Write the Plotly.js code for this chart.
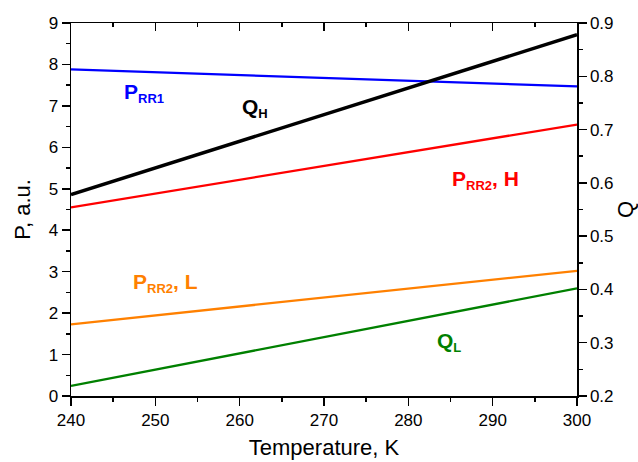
<!DOCTYPE html>
<html>
<head>
<meta charset="utf-8">
<script src="https://cdn.plot.ly/plotly-3.0.1.min.js"></script>
<style>html,body{margin:0;padding:0;background:#fff;}#chart{width:638px;height:462px;}</style>
</head>
<body>
<div id="chart"></div>
<script>
// Temperature, K
const temperature = [240, 270, 300];
// Left axis (P, a.u.)
const pRR1 = [7.88, 7.68, 7.47];
const pRR2H = [4.55, 5.55, 6.55];
const pRR2L = [1.73, 2.37, 3.02];
// Right axis (Q)
const qH = [0.578, 0.728, 0.878];
const qL = [0.219, 0.310, 0.402];

const xTicks = [240, 250, 260, 270, 280, 290, 300];
const pTicks = [0, 1, 2, 3, 4, 5, 6, 7, 8, 9];
const qTicks = [0.2, 0.3, 0.4, 0.5, 0.6, 0.7, 0.8, 0.9];

const FONT = 'Arial, "Liberation Sans", sans-serif';

const traces = [
  {x: temperature, y: pRR1, mode: 'lines', line: {color: '#0000ff', width: 2.3}, xaxis: 'x', yaxis: 'y'},
  {x: temperature, y: pRR2H, mode: 'lines', line: {color: '#ff0000', width: 2.3}, xaxis: 'x', yaxis: 'y'},
  {x: temperature, y: pRR2L, mode: 'lines', line: {color: '#ff8000', width: 2.3}, xaxis: 'x', yaxis: 'y'},
  {x: temperature, y: qL, mode: 'lines', line: {color: '#008000', width: 2.3}, xaxis: 'x', yaxis: 'y2'},
  {x: temperature, y: qH, mode: 'lines', line: {color: '#000000', width: 3.5}, xaxis: 'x', yaxis: 'y2'},
  {x: temperature, y: pRR1, mode: 'lines', line: {width: 0}, opacity: 0, xaxis: 'x2', yaxis: 'y', hoverinfo: 'skip'}
];

const axisCommon = {
  showline: true, linecolor: '#000', linewidth: 1.5, showgrid: false, zeroline: false,
  tickcolor: '#000', tickwidth: 1.5, ticklen: 8,
  tickfont: {family: FONT, size: 17, color: '#000'}
};

const sub = (s) => '<sub><span style="font-size:13px">' + s + '</span></sub>';

const ann = (text, x, y, color) => ({
  text: text, x: x, y: y, xref: 'x', yref: 'y', xanchor: 'left', yanchor: 'middle',
  showarrow: false, font: {family: FONT, size: 21, color: color}
});

const layout = {
  width: 638, height: 462,
  margin: {l: 71, r: 61, t: 23, b: 66},
  paper_bgcolor: '#fff', plot_bgcolor: '#fff',
  showlegend: false,
  font: {family: FONT, color: '#000'},
  xaxis: Object.assign({}, axisCommon, {
    range: [240, 300], tickvals: xTicks, ticks: 'outside',
    minor: {ticks: 'outside', dtick: 5, ticklen: 4, tickcolor: '#000', tickwidth: 1.5},
    title: {text: 'Temperature, K', font: {family: FONT, size: 22, color: '#000'}, standoff: 10}
  }),
  xaxis2: Object.assign({}, axisCommon, {
    range: [240, 300], overlaying: 'x', side: 'top', anchor: 'y', tickvals: xTicks, ticks: 'inside',
    showticklabels: false,
    minor: {ticks: 'inside', dtick: 5, ticklen: 4, tickcolor: '#000', tickwidth: 1.5}
  }),
  yaxis: Object.assign({}, axisCommon, {
    range: [0, 9], tickvals: pTicks, ticks: 'outside',
    minor: {ticks: 'outside', dtick: 0.5, ticklen: 4, tickcolor: '#000', tickwidth: 1.5},
    title: {text: 'P, a.u.', font: {family: FONT, size: 22, color: '#000'}, standoff: 12}
  }),
  yaxis2: Object.assign({}, axisCommon, {
    range: [0.2, 0.9], tickvals: qTicks, ticktext: qTicks.map(v => v.toFixed(1)),
    ticks: 'outside', overlaying: 'y', side: 'right', anchor: 'x',
    minor: {ticks: 'outside', dtick: 0.05, ticklen: 4, tickcolor: '#000', tickwidth: 1.5},
    title: {text: 'Q', font: {family: FONT, size: 22, color: '#000'}, standoff: 10}
  }),
  annotations: [
    ann('<b>P' + sub('RR1') + '</b>', 246.1, 7.3, '#0000ff'),
    ann('<b>Q' + sub('H') + '</b>', 260.0, 6.95, '#000000'),
    ann('<b>P' + sub('RR2') + ', H</b>', 284.9, 5.2, '#ff0000'),
    ann('<b>P' + sub('RR2') + ', L</b>', 247.1, 2.72, '#ff8000'),
    ann('<b>Q' + sub('L') + '</b>', 283.2, 1.3, '#008000')
  ]
};

Plotly.newPlot('chart', traces, layout, {staticPlot: true, displayModeBar: false});
</script>
</body>
</html>
